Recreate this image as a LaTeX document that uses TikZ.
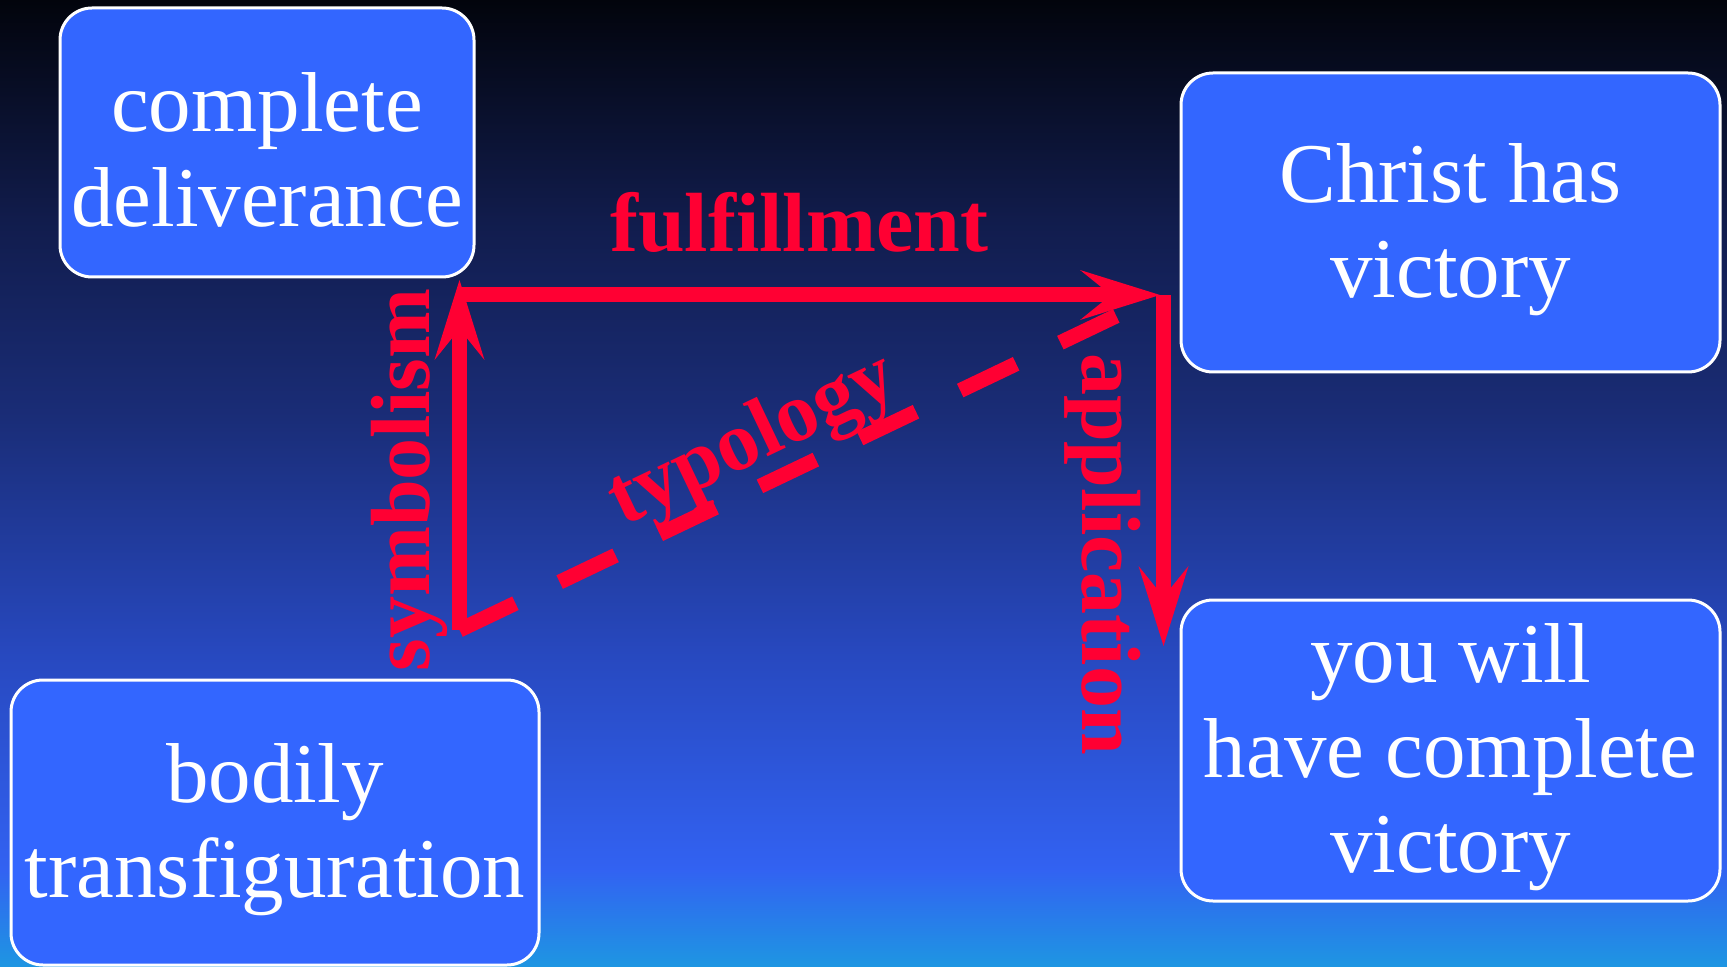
\documentclass[tikz,border=0pt]{standalone}
\usepackage{fontspec}
\setmainfont{Liberation Serif}[Ligatures=CommonOff]
\usepackage{xcolor}
\usetikzlibrary{arrows.meta,positioning}

\definecolor{ideablue}{HTML}{3366FF}
\definecolor{linkred}{HTML}{FF0033}
\definecolor{bgA}{HTML}{02040C}
\definecolor{bgB}{HTML}{111C4C}
\definecolor{bgC}{HTML}{1A2D78}
\definecolor{bgD}{HTML}{2748BE}
\definecolor{bgE}{HTML}{3262F2}
\definecolor{bgF}{HTML}{1E96E2}

% lifts the top of a box text a little, so the lines sit lower
\newcommand{\ideastrut}{\rule{0pt}{0.86em}}

\begin{document}
\begin{tikzpicture}
    [x=0.5pt, y=-0.5pt,
    >={Stealth[length=40pt,width=25pt,inset=15.5pt,line width=0pt]},
    idea/.style={draw=white, line width=1.5pt, fill=ideablue,
        rounded corners=16pt, inner sep=0pt, align=center, text=white,
        font=\fontsize{42.5}{47.5}\selectfont},
    link/.style={draw=linkred, line width=7.5pt},
    link label/.style={text=linkred, inner sep=0pt, anchor=base,
        font=\fontsize{42}{47}\selectfont\bfseries},
    ]
    \useasboundingbox (0,0) rectangle (1727,967);

    % background
    \shade[top color=bgA, bottom color=bgB] (0,0) rectangle (1727,220);
    \shade[top color=bgB, bottom color=bgC] (0,219) rectangle (1727,420);
    \shade[top color=bgC, bottom color=bgD] (0,419) rectangle (1727,650);
    \shade[top color=bgD, bottom color=bgE] (0,649) rectangle (1727,870);
    \shade[top color=bgE, bottom color=bgF] (0,869) rectangle (1727,967);

    % the four ideas
    \node[idea, minimum width=207pt, minimum height=134.5pt] (deliverance)
        at (267,142.5) {\ideastrut complete\\deliverance};
    \node[idea, minimum width=269.5pt, minimum height=149.5pt] (victory)
        at (1450.5,222.5) {\ideastrut Christ has\\victory};
    \node[idea, minimum width=269.5pt, minimum height=150.5pt] (yourvictory)
        at (1450.5,750.5) {\ideastrut you will\\have complete\\victory};
    \node[idea, minimum width=264pt, minimum height=142.5pt] (bodily)
        at (275,822.5) {\ideastrut bodily\\transfiguration};

    \coordinate (symbase) at (459.5,630);
    \coordinate (symtop) at (459.5,280);
    \coordinate (fulstart) at (459.5,295);
    \coordinate (fulend) at (1160,295);
    \coordinate (apptop) at (1163.5,295);
    \coordinate (append) at (1163.5,646);

    % connectors
    \draw[link, ->] (symbase) -- (symtop);
    \draw[link, ->] (fulstart) -- (fulend);
    \draw[link, ->] (apptop) -- (append);
    \draw[link, dash pattern=on 31pt off 24.5pt] (symbase) -- (fulend);

    \node[link label] (fulfillment) at (799,252) {fulfillment};
    \node[link label, rotate=90] (symbolism) at (429,480) {symbolism};
    \node[link label, rotate=-90] (application) at (1082,554) {application};
    \node[link label, rotate=25.5] (typology) at (762,460) {typology};
\end{tikzpicture}
\end{document}
